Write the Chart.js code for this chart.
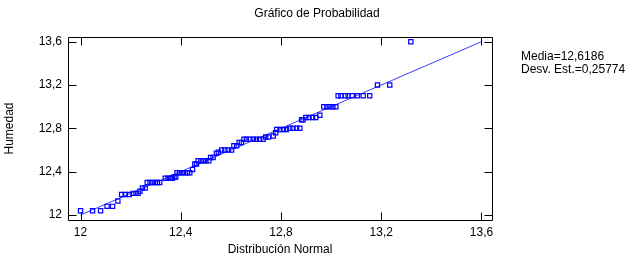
<!DOCTYPE html>
<html>
<head>
<meta charset="utf-8">
<script src="https://cdn.jsdelivr.net/npm/chart.js@4/dist/chart.umd.min.js"></script>
<style>
  html, body { margin: 0; padding: 0; background: #fff; }
  #wrap { width: 635px; height: 263px; }
</style>
</head>
<body>
<div id="wrap"><canvas id="chart" width="635" height="263"></canvas></div>
<script>
// Normal distribution quantiles (x) and sorted moisture readings (y)
const normalQuantiles = [
  12.0, 12.048, 12.08, 12.106, 12.128, 12.149,
  12.164, 12.178, 12.194, 12.21, 12.221, 12.23, 12.237, 12.247, 12.258,
  12.266, 12.277, 12.287, 12.298, 12.307, 12.316,
  12.338, 12.349, 12.36, 12.366, 12.373, 12.38,
  12.385, 12.395, 12.406, 12.417, 12.427, 12.436, 12.447, 12.456, 12.463,
  12.469, 12.48, 12.49, 12.5, 12.512, 12.519, 12.529, 12.542, 12.55,
  12.563, 12.576, 12.589, 12.603, 12.612, 12.623, 12.633, 12.642,
  12.652, 12.662, 12.676, 12.689, 12.702, 12.715, 12.729,
  12.739, 12.75, 12.769, 12.779,
  12.783, 12.796, 12.81, 12.822, 12.835, 12.848, 12.862, 12.875,
  12.882, 12.888, 12.899, 12.912, 12.926, 12.939, 12.955,
  12.971, 12.983, 12.995, 13.007, 13.019,
  13.028, 13.039, 13.057, 13.068, 13.084, 13.105, 13.128, 13.154,
  13.185, 13.234, 13.318
];
const humedad = [
  12.04, 12.04, 12.04, 12.08, 12.08, 12.13,
  12.19, 12.19, 12.19, 12.2, 12.2, 12.2, 12.22, 12.25, 12.25,
  12.3, 12.3, 12.3, 12.3, 12.3, 12.3,
  12.34, 12.34, 12.34, 12.34, 12.35, 12.35,
  12.39, 12.39, 12.39, 12.39, 12.39, 12.39, 12.42, 12.47, 12.47,
  12.5, 12.5, 12.5, 12.5, 12.5, 12.53, 12.53, 12.57, 12.58,
  12.6, 12.6, 12.6, 12.6, 12.64, 12.64, 12.67, 12.67,
  12.7, 12.7, 12.7, 12.7, 12.7, 12.7, 12.7,
  12.72, 12.72, 12.73, 12.76,
  12.79, 12.79, 12.79, 12.79, 12.8, 12.8, 12.8, 12.8,
  12.88, 12.88, 12.9, 12.9, 12.9, 12.9, 12.92,
  13.0, 13.0, 13.0, 13.0, 13.0,
  13.1, 13.1, 13.1, 13.1, 13.1, 13.1, 13.1, 13.1,
  13.2, 13.2,
  13.6
];
const refLine = [12, 13.6];
const xTicks = [12, 12.4, 12.8, 13.2, 13.6];
const yTicks = [12, 12.4, 12.8, 13.2, 13.6];
const statLines = ["Media=12,6186", "Desv. Est.=0,25774"];

const FONT = "12px 'Liberation Sans', Arial, sans-serif";
const fmt = (v) => String(Math.round(v * 10) / 10).replace(".", ",");

// Frame with inward ticks on all four sides, plus all texts
const framePlugin = {
  id: "frame",
  afterDraw(chart) {
    const { ctx, chartArea: a, scales } = chart;
    const xs = scales.x, ys = scales.y;
    const L = Math.round(a.left) + 0.5, R = Math.round(a.right) + 0.5;
    const T = Math.round(a.top) + 0.5, B = Math.round(a.bottom) + 0.5;
    const tick = 8;

    ctx.save();
    ctx.strokeStyle = "#000";
    ctx.lineWidth = 1;
    ctx.beginPath();
    ctx.rect(L, T, R - L, B - T);
    xTicks.forEach((v) => {
      const px = Math.round(xs.getPixelForValue(v)) + 0.5;
      ctx.moveTo(px, B); ctx.lineTo(px, B - tick);
      ctx.moveTo(px, T); ctx.lineTo(px, T + tick);
    });
    yTicks.forEach((v) => {
      const py = Math.round(ys.getPixelForValue(v)) + 0.5;
      ctx.moveTo(L, py); ctx.lineTo(L + tick, py);
      ctx.moveTo(R, py); ctx.lineTo(R - tick, py);
    });
    ctx.stroke();

    ctx.fillStyle = "#000";
    ctx.font = FONT;
    ctx.textBaseline = "middle";

    ctx.textAlign = "center";
    xTicks.forEach((v) => ctx.fillText(fmt(v), xs.getPixelForValue(v), 233));
    ctx.textAlign = "right";
    yTicks.forEach((v) => ctx.fillText(fmt(v), 62, ys.getPixelForValue(v)));

    ctx.textAlign = "center";
    ctx.fillText("Gráfico de Probabilidad", 317, 14);
    ctx.fillText("Distribución Normal", (a.left + a.right) / 2, 250);

    ctx.save();
    ctx.translate(10, (a.top + a.bottom) / 2);
    ctx.rotate(-Math.PI / 2);
    ctx.fillText("Humedad", 0, 0);
    ctx.restore();

    ctx.textAlign = "left";
    statLines.forEach((s, i) => ctx.fillText(s, 521, 57 + i * 13));
    ctx.restore();
  },
};

new Chart(document.getElementById("chart"), {
  type: "scatter",
  data: {
    datasets: [
      {
        label: "Humedad",
        data: normalQuantiles.map((x, i) => ({ x, y: humedad[i] })),
        pointStyle: "rect",
        pointRadius: 3,
        borderColor: "#0000ff",
        backgroundColor: "rgba(0,0,0,0)",
        borderWidth: 1.2,
      },
      {
        type: "line",
        label: "Normal",
        data: refLine.map((v) => ({ x: v, y: v })),
        borderColor: "#3b3bff",
        borderWidth: 1,
        pointRadius: 0,
        fill: false,
      },
    ],
  },
  options: {
    responsive: false,
    animation: false,
    layout: { padding: { left: 68, top: 37, right: 143, bottom: 43 } },
    plugins: { legend: { display: false }, tooltip: { enabled: false } },
    scales: {
      x: { type: "linear", min: 11.95, max: 13.642, display: false },
      y: { type: "linear", min: 11.954, max: 13.643, display: false },
    },
  },
  plugins: [framePlugin],
});
</script>
</body>
</html>
